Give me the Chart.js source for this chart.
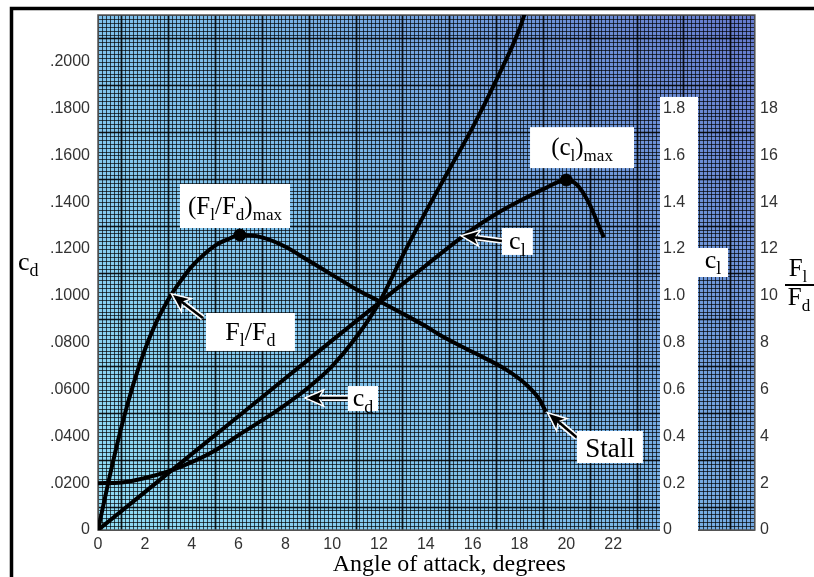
<!DOCTYPE html>
<html>
<head>
<meta charset="utf-8">
<title>Airfoil lift, drag and lift-to-drag ratio</title>
<script src="https://cdn.jsdelivr.net/npm/chart.js@4.4.0/dist/chart.umd.min.js"></script>
<style>
  html, body { margin: 0; padding: 0; background: #fff; }
  canvas { display: block; }
</style>
</head>
<body>
<canvas id="airfoilChart" width="814" height="577"></canvas>
<script>
//---------------------------------------------------------
// Data
// Drag coefficient c_d (left axis)
const angleCd = [0, 1, 2, 3, 4, 5, 6, 7, 8, 9, 10, 11, 12, 13, 14, 15, 16, 17, 18, 18.3];
const dragCoef = [0.0200, 0.0203, 0.0222, 0.0250, 0.0290, 0.0340, 0.0405, 0.0468, 0.0535, 0.0610, 0.0700, 0.0820, 0.0970, 0.1170, 0.1360, 0.1540, 0.1720, 0.1920, 0.2140, 0.2230];

// Lift coefficient c_l (inner right axis)
const angleCl = [0, 2, 4, 6, 8, 10, 12, 14, 16, 17, 18, 19, 20, 20.5, 21, 21.3, 21.6];
const liftCoef = [0, 0.162, 0.324, 0.486, 0.648, 0.81, 0.97, 1.13, 1.285, 1.35, 1.405, 1.455, 1.495, 1.47, 1.39, 1.32, 1.25];

// Lift-to-drag ratio F_l/F_d (outer right axis)
const angleLd = [0, 0.5, 1, 1.5, 2, 2.5, 3, 3.5, 4, 4.5, 5, 5.5, 6.06, 7, 8, 9, 10, 11, 12, 13, 14, 14.6, 16, 17.46, 18.3, 18.87, 19.13];
const liftDrag = [0, 2.3, 4.4, 6.2, 7.7, 8.9, 9.85, 10.6, 11.25, 11.75, 12.15, 12.4, 12.6, 12.5, 12.1, 11.5, 10.9, 10.3, 9.78, 9.25, 8.7, 8.33, 7.6, 6.83, 6.2, 5.55, 5.04];

// Marked maxima
const maxLd = { angle: 6.06, value: 12.6 };
const maxCl = { angle: 20.0, value: 1.495 };

// Axis ranges and tick steps
const angleRange = [0, 24];
const cdRange = [0, 0.22];
const clRange = [0, 2.2];
const ldRange = [0, 22];
const GRID_X_MAX = 28.05; // grid keeps going behind the right-hand axes

// Text labels inside the plot: [text, isSubscript]; box/arrow in (angle, F_l/F_d units)
const notes = [
  { parts: [['(F', 0], ['l', 1], ['/F', 0], ['d', 1], [')', 0], ['max', 1]], size: 25, box: [3.5, 14.78, 8.2, 12.9] },
  { parts: [['(c', 0], ['l', 1], [')', 0], ['max', 1]], size: 25, box: [18.45, 17.21, 22.89, 15.46] },
  { parts: [['c', 0], ['l', 1]], size: 26, box: [17.25, 12.9, 18.57, 11.75], arrow: [17.25, 12.35, 15.58, 12.56] },
  { parts: [['F', 0], ['l', 1], ['/F', 0], ['d', 1]], size: 26, box: [4.61, 9.27, 8.41, 7.65], arrow: [4.48, 9.06, 3.2, 10.04] },
  { parts: [['c', 0], ['d', 1]], size: 26, box: [10.67, 6.15, 11.96, 5.08], arrow: [10.67, 5.64, 8.92, 5.64] },
  { parts: [['Stall', 0]], size: 27, box: [20.45, 4.23, 23.27, 2.86], arrow: [20.45, 3.95, 19.26, 4.96] },
];

const toPoints = (xs, ys) => xs.map((x, i) => ({ x, y: ys[i] }));

//---------------------------------------------------------
// Drawing helpers
function drawRichText(ctx, parts, x, baseline, size, align) {
  const subSize = Math.round(size * 0.68);
  const fontFor = p => `${p[1] ? subSize : size}px "Liberation Serif"`;
  const widths = parts.map(p => { ctx.font = fontFor(p); return ctx.measureText(p[0]).width; });
  const total = widths.reduce((a, b) => a + b, 0);
  let cx = align === 'left' ? x : x - total / 2;
  ctx.fillStyle = '#000';
  ctx.textAlign = 'left';
  ctx.textBaseline = 'alphabetic';
  parts.forEach((p, i) => {
    ctx.font = fontFor(p);
    ctx.fillText(p[0], cx, baseline + (p[1] ? size * 0.24 : 0));
    cx += widths[i];
  });
}

function drawArrow(ctx, x1, y1, x2, y2) {
  const ang = Math.atan2(y2 - y1, x2 - x1);
  const headLen = 15, headW = 6.5;
  const bx = x2 - headLen * Math.cos(ang), by = y2 - headLen * Math.sin(ang);
  const nx = -Math.sin(ang) * headW, ny = Math.cos(ang) * headW;
  const head = () => {
    ctx.beginPath();
    ctx.moveTo(x2, y2);
    ctx.lineTo(bx + nx, by + ny);
    ctx.lineTo(bx + headLen * 0.25 * Math.cos(ang), by + headLen * 0.25 * Math.sin(ang));
    ctx.lineTo(bx - nx, by - ny);
    ctx.closePath();
  };
  // white halo first
  ctx.strokeStyle = '#fff';
  ctx.lineWidth = 6;
  ctx.beginPath(); ctx.moveTo(x1, y1); ctx.lineTo(bx, by); ctx.stroke();
  ctx.lineWidth = 3; head(); ctx.stroke();
  // black arrow
  ctx.strokeStyle = '#000';
  ctx.fillStyle = '#000';
  ctx.lineWidth = 2.5;
  ctx.beginPath(); ctx.moveTo(x1, y1); ctx.lineTo(bx + 4 * Math.cos(ang), by + 4 * Math.sin(ang)); ctx.stroke();
  head(); ctx.fill();
}

// keep label paddings from pushing the plot area around
const fixPadding = s => { s.paddingTop = 0; s.paddingBottom = 0; s.paddingLeft = 0; s.paddingRight = 0; };

//---------------------------------------------------------
// Plugin: blue graph-paper background, frame and white strip for c_l ticks
const graphPaper = {
  id: 'graphPaper',
  beforeDraw(chart) {
    const { ctx, chartArea, scales: { x, yCd, yCl } } = chart;
    const left = x.getPixelForValue(0);
    const right = x.getPixelForValue(GRID_X_MAX);
    const top = chartArea.top, bottom = chartArea.bottom;
    ctx.save();
    ctx.fillStyle = '#fff';
    ctx.fillRect(0, 0, chart.width, chart.height);

    const grad = ctx.createLinearGradient(left, bottom, right, top);
    grad.addColorStop(0, '#90dcf5');
    grad.addColorStop(0.5, '#7ab8e8');
    grad.addColorStop(1, '#6479cc');
    ctx.fillStyle = grad;
    ctx.fillRect(left, top, right - left, bottom - top);

    // fine grid: 1/6 degree and c_d/600, heavier line on odd ticks
    for (let i = 0; i <= GRID_X_MAX * 6; i++) {
      const px = Math.round(x.getPixelForValue(i / 6)) + 0.5;
      const major = i % 12 === 6;
      ctx.strokeStyle = major ? 'rgba(0,0,0,0.9)' : 'rgba(0,0,0,0.68)';
      ctx.lineWidth = major ? 1.7 : 1;
      ctx.beginPath(); ctx.moveTo(px, top); ctx.lineTo(px, bottom); ctx.stroke();
    }
    for (let j = 0; j <= 132; j++) {
      const py = Math.round(yCd.getPixelForValue(j * 0.02 / 12)) + 0.5;
      const major = j % 12 === 6;
      ctx.strokeStyle = major ? 'rgba(0,0,0,0.9)' : 'rgba(0,0,0,0.68)';
      ctx.lineWidth = major ? 1.7 : 1;
      ctx.beginPath(); ctx.moveTo(left, py); ctx.lineTo(right, py); ctx.stroke();
    }
    ctx.strokeStyle = '#555';
    ctx.lineWidth = 1.5;
    ctx.strokeRect(left, top, right - left, bottom - top);

    // white strip holding the c_l tick labels
    const stripTop = yCl.getPixelForValue(1.85);
    ctx.fillStyle = '#fff';
    ctx.fillRect(yCl.left, stripTop, yCl.right - yCl.left, bottom - stripTop + 3);

    // outer frame (top and left rules)
    ctx.strokeStyle = '#000';
    ctx.lineWidth = 3.5;
    ctx.beginPath();
    ctx.moveTo(11.5, chart.height);
    ctx.lineTo(11.5, 8.5);
    ctx.lineTo(chart.width, 8.5);
    ctx.stroke();
    ctx.restore();
  },

  afterDraw(chart) {
    const { ctx, scales: { x, yF } } = chart;
    ctx.save();
    // labelled boxes with arrows
    notes.forEach(n => {
      const [a0, v0, a1, v1] = n.box;
      const bl = x.getPixelForValue(a0), br = x.getPixelForValue(a1);
      const bt = yF.getPixelForValue(v0), bb = yF.getPixelForValue(v1);
      if (n.arrow) {
        const [fa, fv, ta, tv] = n.arrow;
        drawArrow(ctx, x.getPixelForValue(fa), yF.getPixelForValue(fv), x.getPixelForValue(ta), yF.getPixelForValue(tv));
      }
      ctx.fillStyle = '#fff';
      ctx.fillRect(bl, bt, br - bl, bb - bt);
      const hasSub = n.parts.some(p => p[1]);
      drawRichText(ctx, n.parts, (bl + br) / 2, (bt + bb) / 2 + n.size * (hasSub ? 0.3 : 0.36), n.size);
    });

    // axis titles
    drawRichText(ctx, [['c', 0], ['d', 1]], 18, 270, 26, 'left');

    const clBoxL = yF.left;
    ctx.fillStyle = '#fff';
    ctx.fillRect(clBoxL, 248, 30, 29);
    drawRichText(ctx, [['c', 0], ['l', 1]], clBoxL + 15, 268, 26);

    const fracX = yF.left + 100;
    drawRichText(ctx, [['F', 0], ['l', 1]], fracX, 276, 25);
    ctx.strokeStyle = '#000';
    ctx.lineWidth = 2;
    ctx.beginPath(); ctx.moveTo(fracX - 13, 285); ctx.lineTo(fracX + 16, 285); ctx.stroke();
    drawRichText(ctx, [['F', 0], ['d', 1]], fracX + 1, 305, 25);

    // x axis title
    ctx.font = '24px "Liberation Serif"';
    ctx.fillStyle = '#000';
    ctx.textAlign = 'center';
    ctx.textBaseline = 'alphabetic';
    ctx.fillText('Angle of attack, degrees', x.getPixelForValue(15), 571);
    ctx.restore();
  }
};

//---------------------------------------------------------
// Chart
const tickFont = { family: 'Liberation Sans', size: 16 };
const tickColor = '#333';

const curveStyle = {
  borderColor: '#000',
  borderWidth: 4,
  pointRadius: 0,
  fill: false,
  cubicInterpolationMode: 'monotone',
};

new Chart(document.getElementById('airfoilChart').getContext('2d'), {
  type: 'line',
  data: {
    datasets: [
      { label: 'c_d', data: toPoints(angleCd, dragCoef), yAxisID: 'yCd', ...curveStyle },
      { label: 'c_l', data: toPoints(angleCl, liftCoef), yAxisID: 'yCl', ...curveStyle },
      { label: 'F_l/F_d', data: toPoints(angleLd, liftDrag), yAxisID: 'yF', ...curveStyle },
      { label: '(F_l/F_d)max', data: [{ x: maxLd.angle, y: maxLd.value }], yAxisID: 'yF', showLine: false,
        pointRadius: 6, pointBackgroundColor: '#000', pointBorderColor: '#000' },
      { label: '(c_l)max', data: [{ x: maxCl.angle, y: maxCl.value }], yAxisID: 'yCl', showLine: false,
        pointRadius: 6, pointBackgroundColor: '#000', pointBorderColor: '#000' },
    ],
  },
  options: {
    responsive: false,
    animation: false,
    devicePixelRatio: 1,
    layout: { padding: { top: 15, left: 0, right: 0, bottom: 0 } },
    plugins: { legend: { display: false }, tooltip: { enabled: false } },
    scales: {
      x: {
        type: 'linear',
        min: angleRange[0], max: angleRange[1],
        grid: { display: false, drawTicks: false },
        border: { display: false },
        ticks: { stepSize: 2, autoSkip: false, maxRotation: 0, padding: 5, font: tickFont, color: tickColor,
          callback: v => (v > 22 ? '' : String(v)) },
        afterFit: s => { fixPadding(s); s.height = 47; },
      },
      yCd: {
        type: 'linear', position: 'left',
        min: cdRange[0], max: cdRange[1],
        grid: { display: false, drawTicks: false },
        border: { display: false },
        ticks: { stepSize: 0.02, autoSkip: false, padding: 8, font: tickFont, color: tickColor,
          callback: v => (v > 0.201 ? '' : (v === 0 ? '0' : v.toFixed(4).slice(1))) },
        afterFit: s => { fixPadding(s); s.width = 98; },
      },
      yCl: {
        type: 'linear', position: 'right', weight: 0,
        min: clRange[0], max: clRange[1],
        grid: { display: false, drawTicks: false },
        border: { display: false },
        ticks: { stepSize: 0.2, autoSkip: false, padding: 3, font: tickFont, color: tickColor,
          callback: v => (v > 1.81 ? '' : (v === 0 ? '0' : v.toFixed(1))) },
        afterFit: s => { fixPadding(s); s.width = 38; },
      },
      yF: {
        type: 'linear', position: 'right', weight: 1,
        min: ldRange[0], max: ldRange[1],
        grid: { display: false, drawTicks: false },
        border: { display: false },
        ticks: { stepSize: 2, autoSkip: false, padding: 62, font: tickFont, color: tickColor,
          callback: v => (v > 18.1 ? '' : String(Math.round(v))) },
        afterFit: s => { fixPadding(s); s.width = 116; },
      },
    },
  },
  plugins: [graphPaper],
});
</script>
</body>
</html>
